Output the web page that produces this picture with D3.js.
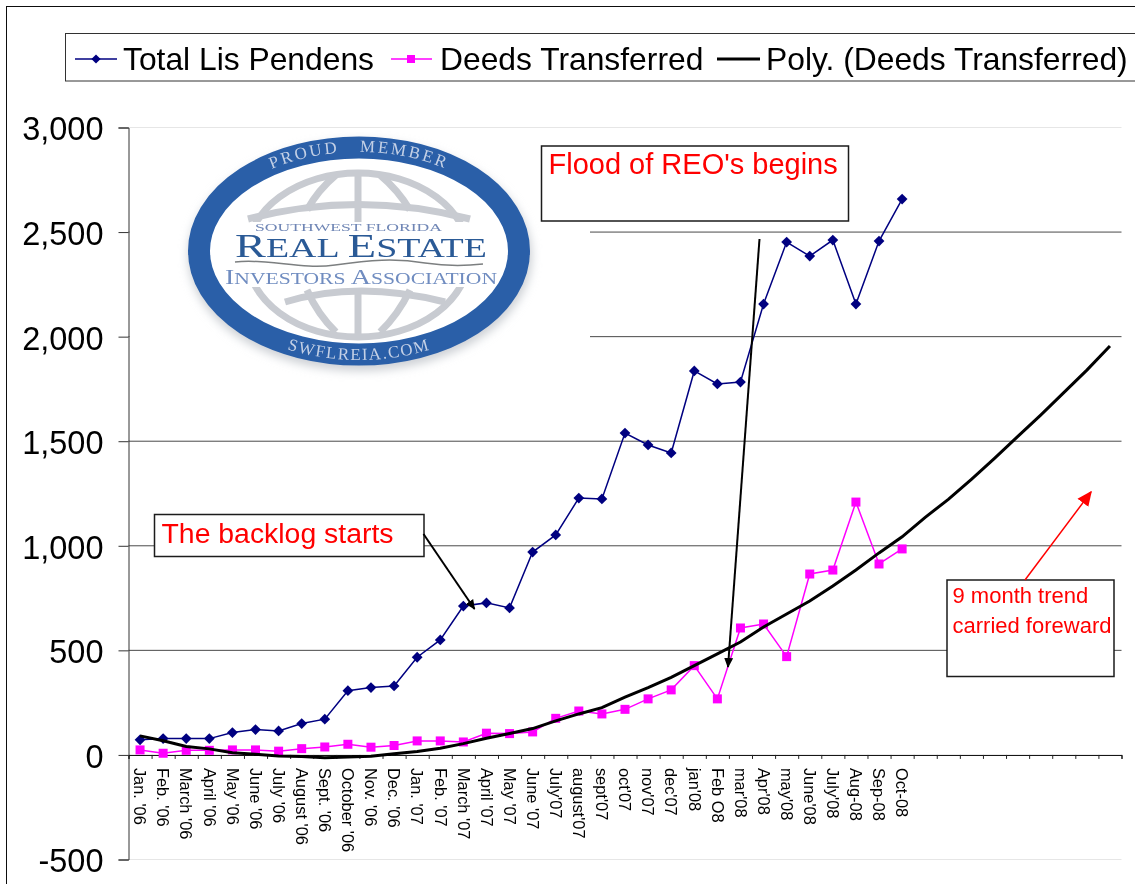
<!DOCTYPE html>
<html>
<head>
<meta charset="utf-8">
<script src="https://cdn.jsdelivr.net/npm/d3@7"></script>
<style>
    html, body { margin: 0; padding: 0; background: white; }
    svg { display: block; }
    text { font-family: "Liberation Sans", Arial, sans-serif; }
</style>
</head>
<body>
<div id="chart"></div>
<script>
// the last 9 months have no label, only the trend runs over them
const months = ["Jan. '06", "Feb. '06", "March '06", "April '06", "May '06", "June '06", "July '06", "August '06",
    "Sept. '06", "October '06", "Nov. '06", "Dec. '06", "Jan. '07", "Feb. '07", "March '07", "April '07", "May '07",
    "June '07", "July'07", "august'07", "sept'07", "oct'07", "nov'07", "dec'07", "jan'08", "Feb O8", "mar'08",
    "Apr'08", "may'08", "June'08", "July'08", "Aug-08", "Sep-08", "Oct-08", "", "", "", "", "", "", "", "", ""];
const lisPendens = [72, 78, 78, 78, 107, 121, 115, 150, 171, 307, 322, 330, 467, 550, 712, 727, 703, 970, 1052, 1228,
    1224, 1539, 1482, 1444, 1836, 1774, 1783, 2156, 2452, 2385, 2462, 2156, 2457, 2658];
const deeds = [24, 8, 22, 22, 24, 24, 18, 30, 38, 51, 37, 45, 67, 67, 62, 104, 102, 110, 175, 210, 196, 218, 268, 311,
    427, 268, 607, 626, 470, 865, 884, 1209, 913, 985];
const polyTrend = [91, 68, 40, 29, 10, 3, -5, -8, -14, -10, -6, 6, 16, 32, 54, 80, 102, 126, 163, 196, 226, 276, 322,
    371, 427, 483, 540, 612, 674, 736, 808, 884, 966, 1043, 1136, 1222, 1318, 1418, 1522, 1625, 1732, 1840, 1955];
const yTicks = [-500, 0, 500, 1000, 1500, 2000, 2500, 3000];

const width = 1135;
const height = 884;
const margin = {t: 127.5, b: 24.5, l: 128.5, r: 13.5};

const svg = d3.select("#chart")
    .append("svg")
    .attr("width", width)
    .attr("height", height)
    .attr("viewBox", [0, 0, width, height]);

const defs = svg.append("defs");
defs.append("filter").attr("id", "soft").append("feGaussianBlur").attr("stdDeviation", 0.35);
defs.append("filter").attr("id", "logoBlur").append("feGaussianBlur").attr("stdDeviation", 0.6);
defs.append("filter").attr("id", "shadow")
    .attr("x", "-10%").attr("y", "-10%").attr("width", "120%").attr("height", "120%")
    .append("feGaussianBlur").attr("stdDeviation", 5);
defs.append("clipPath").attr("id", "globeClip")
    .selectAll("rect")
    .data([[230, 165, 260, 57], [230, 287, 260, 60]])
    .join("rect")
    .attr("x", d => d[0]).attr("y", d => d[1]).attr("width", d => d[2]).attr("height", d => d[3]);
function addArrowHead(id, color, size) {
    defs.append("marker")
        .attr("id", id)
        .attr("viewBox", "0 0 10 10")
        .attr("refX", 9).attr("refY", 5)
        .attr("markerUnits", "userSpaceOnUse")
        .attr("markerWidth", size).attr("markerHeight", size)
        .attr("orient", "auto")
        .append("path")
        .attr("d", "M0,0.5 L10,5 L0,9.5 Z")
        .attr("fill", color);
}
addArrowHead("arrowBlack", "black", 10);
addArrowHead("arrowRed", "red", 15);

const root = svg.append("g").attr("filter", "url(#soft)");

//outer chart frame, runs off the right and the bottom
root.append("rect")
    .attr("x", 6.5).attr("y", 6.5)
    .attr("width", width).attr("height", height)
    .attr("fill", "white")
    .attr("stroke", "#111")
    .attr("stroke-width", 1);

//Scales
const xScale = d3.scaleBand()
    .domain(d3.range(months.length))
    .range([margin.l, width - margin.r]);
const xEdges = d3.scaleLinear()
    .domain([0, months.length])
    .range([margin.l, width - margin.r]);
const yScale = d3.scaleLinear()
    .domain([-500, 3000])
    .range([height - margin.b, margin.t]);
const xPos = i => xScale(i) + xScale.bandwidth() / 2;

//Gridlines
root.append("g")
    .selectAll("line")
    .data(yTicks.filter(d => d !== 0))
    .join("line")
    .attr("x1", margin.l)
    .attr("x2", width - margin.r)
    .attr("y1", d => yScale(d))
    .attr("y2", d => yScale(d))
    .attr("stroke", d => (d === 3000 || d === -500) ? "#e6e6e6" : "#4a4a4a")
    .attr("stroke-width", 1);

drawLogo(root.append("g"));

//Y Axis
const yAxis = d3.axisLeft(yScale)
    .tickValues(yTicks)
    .tickSize(10)
    .tickPadding(15)
    .tickFormat(d => d3.format(",")(d).replace("\u2212", "-"));
const yG = root.append("g")
    .attr("transform", `translate(${margin.l}, 0)`)
    .call(yAxis);
yG.select(".domain").attr("stroke", "#333").attr("stroke-width", 1);
yG.selectAll(".tick line").attr("stroke", "#333");
yG.selectAll(".tick text").attr("font-size", "32.5px").attr("dy", "0.38em").attr("fill", "black");

//X Axis, ticks sit between the months
root.append("g")
    .attr("transform", `translate(0, ${yScale(0)})`)
    .call(d3.axisBottom(xEdges).tickValues(d3.range(months.length + 1)).tickSize(4).tickFormat(""))
    .call(g => g.select(".domain").attr("stroke", "black").attr("stroke-width", 1))
    .call(g => g.selectAll(".tick line").attr("stroke", "#222"));
root.append("g")
    .attr("transform", `translate(0, ${yScale(0)})`)
    .call(d3.axisBottom(xScale).tickSize(0).tickFormat(i => months[i]))
    .call(g => g.select(".domain").remove())
    .selectAll(".tick text")
    .attr("transform", "rotate(90)")
    .attr("x", 13)
    .attr("y", 0)
    .attr("dy", "0.35em")
    .attr("text-anchor", "start")
    .attr("font-size", "16.4px")
    .attr("fill", "black");

//Series
const line = d3.line().x((d, i) => xPos(i)).y(d => yScale(d));

root.append("path").datum(lisPendens)
    .attr("d", line).attr("fill", "none").attr("stroke", "#000080").attr("stroke-width", 1.5);
root.append("g").selectAll("path")
    .data(lisPendens)
    .join("path")
    .attr("d", d3.symbol(d3.symbolSquare, 58))
    .attr("transform", (d, i) => `translate(${xPos(i)}, ${yScale(d)}) rotate(45)`)
    .attr("fill", "#000080");

root.append("path").datum(deeds)
    .attr("d", line).attr("fill", "none").attr("stroke", "#ff00ff").attr("stroke-width", 1.5);
root.append("g").selectAll("rect")
    .data(deeds)
    .join("rect")
    .attr("x", (d, i) => xPos(i) - 4.5)
    .attr("y", d => yScale(d) - 4.5)
    .attr("width", 9)
    .attr("height", 9)
    .attr("fill", "#ff00ff");

root.append("path").datum(polyTrend)
    .attr("d", line).attr("fill", "none").attr("stroke", "black").attr("stroke-width", 3);

//Legend
const legend = root.append("g");
legend.append("rect")
    .attr("x", 65.5).attr("y", 33.5)
    .attr("width", width).attr("height", 47.5)
    .attr("fill", "white").attr("stroke", "#333").attr("stroke-width", 1);
const legendItems = [
    {name: "Total Lis Pendens", x1: 75, x2: 117, tx: 123, color: "#000080", w: 1.5},
    {name: "Deeds Transferred", x1: 391, x2: 432, tx: 440, color: "#ff00ff", w: 1.5},
    {name: "Poly. (Deeds Transferred)", x1: 717, x2: 760, tx: 766, color: "black", w: 3}
];
legendItems.forEach(d => {
    legend.append("line")
        .attr("x1", d.x1).attr("x2", d.x2).attr("y1", 59).attr("y2", 59)
        .attr("stroke", d.color).attr("stroke-width", d.w);
    legend.append("text")
        .attr("x", d.tx).attr("y", 70)
        .attr("font-size", "31.8px").attr("fill", "black")
        .text(d.name);
});
legend.append("path")
    .attr("d", d3.symbol(d3.symbolSquare, 42))
    .attr("transform", "translate(96, 59) rotate(45)")
    .attr("fill", "#000080");
legend.append("rect")
    .attr("x", 407).attr("y", 55).attr("width", 8).attr("height", 8)
    .attr("fill", "#ff00ff");

//Annotations
function callout(x, y, w, h, lines, size) {
    const g = root.append("g");
    g.append("rect")
        .attr("x", x).attr("y", y).attr("width", w).attr("height", h)
        .attr("fill", "white").attr("stroke", "#1a1a1a").attr("stroke-width", 1.5);
    lines.forEach(d => {
        g.append("text")
            .attr("x", d.x).attr("y", d.y)
            .attr("font-size", size).attr("fill", "red")
            .text(d.t);
    });
}
function arrow(x1, y1, x2, y2, color, w, head) {
    root.append("line")
        .attr("x1", x1).attr("y1", y1).attr("x2", x2).attr("y2", y2)
        .attr("stroke", color).attr("stroke-width", w)
        .attr("marker-end", `url(#${head})`);
}
callout(541.5, 146, 307, 75, [{t: "Flood of REO's begins", x: 548.5, y: 174}], "29px");
callout(154.5, 514.5, 269.5, 42, [{t: "The backlog starts", x: 161.5, y: 542.5}], "28.4px");
callout(947, 580, 167, 96.5, [
    {t: "9 month trend", x: 952.5, y: 603},
    {t: "carried foreward", x: 952.5, y: 632.5}
], "22px");
arrow(423.5, 534, 474.5, 609, "black", 2, "arrowBlack");
arrow(759.5, 239, 728, 667, "black", 2, "arrowBlack");
arrow(1025, 580, 1091, 492, "red", 1.5, "arrowRed");

//Association seal behind the plot
function drawLogo(g) {
    const cx = 359, cy = 251;
    //blanks the gridlines under the seal
    g.append("rect")
        .attr("x", margin.l + 1).attr("y", 129)
        .attr("width", 590 - margin.l - 1).attr("height", 254)
        .attr("fill", "white");
    g.append("ellipse")
        .attr("cx", cx + 1).attr("cy", cy + 5).attr("rx", 172).attr("ry", 115)
        .attr("fill", "#cdd0d5").attr("filter", "url(#shadow)");

    const seal = g.append("g").attr("filter", "url(#logoBlur)");
    seal.append("ellipse")
        .attr("cx", cx).attr("cy", cy).attr("rx", 160).attr("ry", 103.5)
        .attr("fill", "white").attr("stroke", "#2a5fa8").attr("stroke-width", 22);

    //globe
    const globe = seal.append("g")
        .attr("fill", "none").attr("stroke", "#c8cbd1").attr("stroke-width", 7);
    globe.append("ellipse")
        .attr("cx", 358).attr("cy", 255).attr("rx", 111).attr("ry", 82)
        .attr("clip-path", "url(#globeClip)");
    ["M248,219 Q358,190 470,219", "M285,302 Q358,280 445,302",
        "M307,210 Q318,190 336,175", "M410,210 Q398,190 380,175",
        "M307,290 Q318,315 336,332", "M410,290 Q398,315 380,332",
        "M358,173 V222", "M358,290 V336"].forEach(d => globe.append("path").attr("d", d));

    const serif = "'Liberation Serif', serif";
    seal.append("text")
        .attr("x", 255).attr("y", 231)
        .attr("textLength", 187).attr("lengthAdjust", "spacingAndGlyphs")
        .style("font-family", serif).attr("font-size", "11px").attr("fill", "#6f86b5")
        .text("SOUTHWEST  FLORIDA");
    const real = seal.append("text")
        .attr("x", 235).attr("y", 257)
        .attr("textLength", 252).attr("lengthAdjust", "spacingAndGlyphs")
        .style("font-family", serif).attr("font-size", "27px").attr("fill", "#2c5a96");
    real.append("tspan").attr("font-size", "33px").text("R");
    real.append("tspan").text("EAL ");
    real.append("tspan").attr("font-size", "33px").text("E");
    real.append("tspan").text("STATE");
    seal.append("path")
        .attr("d", "M235,262 C270,258 300,270 335,265 C370,260 395,258 425,263 C445,266 465,266 483,264")
        .attr("fill", "none").attr("stroke", "#7c7f80").attr("stroke-width", 1.5);
    const inv = seal.append("text")
        .attr("x", 225).attr("y", 284)
        .attr("textLength", 272).attr("lengthAdjust", "spacingAndGlyphs")
        .style("font-family", serif).attr("font-size", "17px").attr("fill", "#6f8cc0");
    inv.append("tspan").attr("font-size", "22px").text("I");
    inv.append("tspan").text("NVESTORS ");
    inv.append("tspan").attr("font-size", "22px").text("A");
    inv.append("tspan").text("SSOCIATION");

    //lettering on the ring
    defs.append("path").attr("id", "ringTop").attr("d", `M${cx - 156},${cy} A156,99 0 0 1 ${cx + 156},${cy}`);
    defs.append("path").attr("id", "ringBottom").attr("d", `M${cx - 166},${cy} A166,109 0 0 0 ${cx + 166},${cy}`);
    [["ringTop", "PROUD   MEMBER", "2.5px"], ["ringBottom", "SWFLREIA.COM", "1.5px"]].forEach(d => {
        seal.append("text")
            .attr("text-anchor", "middle")
            .style("font-family", serif).style("white-space", "pre")
            .attr("font-size", "17px").attr("letter-spacing", d[2]).attr("fill", "#c3d0e6")
            .append("textPath")
            .attr("href", "#" + d[0])
            .attr("startOffset", "50%")
            .text(d[1]);
    });
}
</script>
</body>
</html>
